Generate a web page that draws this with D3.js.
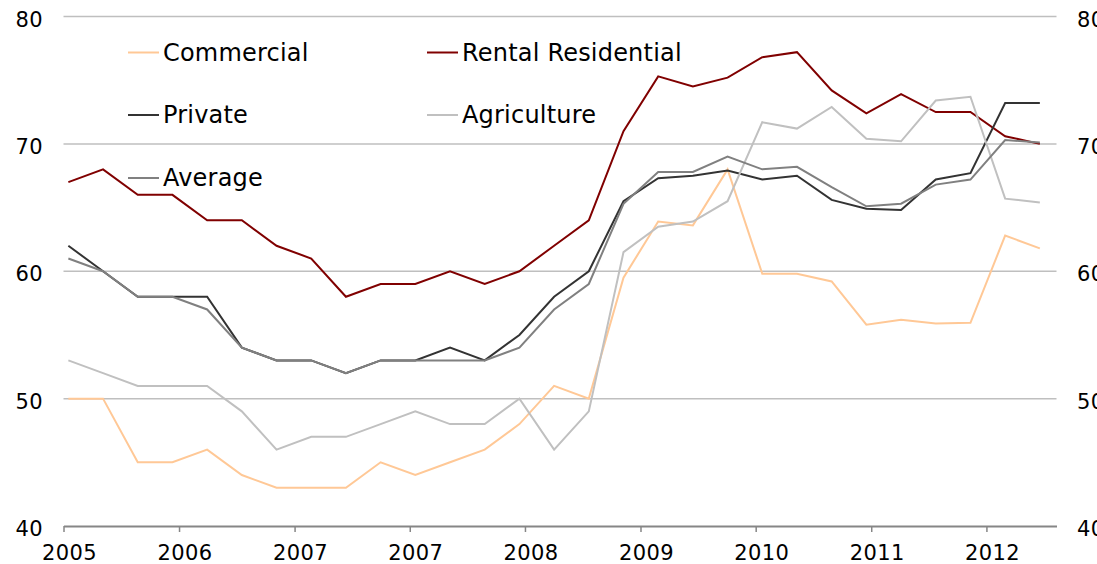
<!DOCTYPE html>
<html>
<head>
<meta charset="utf-8">
<script src="https://cdn.jsdelivr.net/npm/d3@7/dist/d3.min.js"></script>
<style>
  html, body { margin: 0; padding: 0; background: #fff; overflow: hidden; }
  svg { display: block; font-family: "DejaVu Sans", Verdana, sans-serif; }
</style>
</head>
<body>
<div id="chart"></div>
<script>
const width = 1097, height = 564;

// quarterly values, 2005 Q1 .. 2012 Q1
const commercial = [50, 50, 45, 45, 46, 44, 43, 43, 43, 45, 44, 45, 46, 48, 51, 50,
  59.5, 63.9, 63.6, 68.0, 59.8, 59.8, 59.2, 55.8, 56.2, 55.9, 55.95, 62.8, 61.8];
const rental = [67, 68, 66, 66, 64, 64, 62, 61, 58, 59, 59, 60, 59, 60, 62, 64,
  71, 75.3, 74.5, 75.2, 76.8, 77.2, 74.2, 72.4, 73.9, 72.5, 72.5, 70.6, 70.0];
const privateS = [62, 60, 58, 58, 58, 54, 53, 53, 52, 53, 53, 54, 53, 55, 58, 60,
  65.5, 67.3, 67.5, 67.9, 67.2, 67.5, 65.6, 64.9, 64.8, 67.2, 67.7, 73.2, 73.2];
const agriculture = [53, 52, 51, 51, 51, 49, 46, 47, 47, 48, 49, 48, 48, 50, 46, 49,
  61.5, 63.5, 63.9, 65.5, 71.7, 71.2, 72.9, 70.4, 70.2, 73.4, 73.7, 65.7, 65.4];
const average = [61, 60, 58, 58, 57, 54, 53, 53, 52, 53, 53, 53, 53, 54, 57, 59,
  65.3, 67.8, 67.8, 69.0, 68.0, 68.2, 66.6, 65.1, 65.3, 66.8, 67.2, 70.3, 70.1];

const xTickLabels = ["2005", "2006", "2007", "2007", "2008", "2009", "2010", "2011", "2012"];
const xTickAt = [-0.14, 3.19, 6.52, 9.84, 13.16, 16.49, 19.81, 23.14, 26.46];
const yTicks = [40, 50, 60, 70, 80];

const series = [
  { name: "Commercial", values: commercial, color: "#ffc896" },
  { name: "Rental Residential", values: rental, color: "#800000" },
  { name: "Private", values: privateS, color: "#333333" },
  { name: "Agriculture", values: agriculture, color: "#c0c0c0" },
  { name: "Average", values: average, color: "#808080" }
];

const plotL = 63.5, plotR = 1056.5, plotT = 16.5, plotB = 526;

const x = d3.scaleLinear().domain([-0.14, 28.48]).range([plotL, plotR]);
const y = d3.scaleLinear().domain([40, 80]).range([plotB, plotT]);

const svg = d3.select("#chart").append("svg")
  .attr("width", width).attr("height", height);

// gridlines
svg.append("g")
  .selectAll("line")
  .data(yTicks.filter(d => d > 40))
  .enter().append("line")
  .attr("x1", plotL).attr("x2", plotR)
  .attr("y1", d => y(d)).attr("y2", d => y(d))
  .style("stroke", "#bfbfbf")
  .style("stroke-width", 1.5);

// bottom axis
const xAxis = d3.axisBottom(x)
  .tickValues(xTickAt)
  .tickFormat((d, i) => xTickLabels[i])
  .tickSize(6)
  .tickSizeOuter(0);

const gx = svg.append("g")
  .attr("transform", `translate(0,${plotB})`)
  .call(xAxis);
gx.select(".domain").style("stroke", "#868686").style("stroke-width", 2);
gx.selectAll(".tick line").style("stroke", "#868686").style("stroke-width", 1.5);
// labels sit a little right of their ticks in the original
gx.selectAll(".tick text").attr("y", 19).attr("x", 5.5);

// left and right value labels
const yAxisL = d3.axisLeft(y).tickValues(yTicks).tickSize(0).tickPadding(0);
const gyl = svg.append("g").attr("transform", `translate(43,0)`).call(yAxisL);
gyl.select(".domain").remove();

const yAxisR = d3.axisRight(y).tickValues(yTicks).tickSize(0).tickPadding(0);
const gyr = svg.append("g").attr("transform", `translate(1077,0)`).call(yAxisR);
gyr.select(".domain").remove();

gyl.selectAll(".tick text").attr("dy", "0.46em");
gyr.selectAll(".tick text").attr("dy", "0.46em");

svg.selectAll(".tick text")
  .style("font-size", "21px")
  .style("letter-spacing", "0.4px")
  .style("fill", "#000")
  .style("font-family", "DejaVu Sans, Verdana, sans-serif");

// lines
const line = d3.line()
  .x((d, i) => x(i))
  .y(d => y(d));

svg.append("g")
  .selectAll("path")
  .data(series)
  .enter().append("path")
  .attr("d", d => line(d.values))
  .style("fill", "none")
  .style("stroke", d => d.color)
  .style("stroke-width", 2)
  .style("stroke-linejoin", "miter");

// legend
const legendPos = [
  { lx: 128, ly: 52.5 },
  { lx: 427, ly: 52.5 },
  { lx: 128, ly: 115 },
  { lx: 427, ly: 115 },
  { lx: 128, ly: 178 }
];

const legend = svg.append("g")
  .selectAll("g")
  .data(series)
  .enter().append("g")
  .attr("transform", (d, i) => `translate(${legendPos[i].lx},${legendPos[i].ly})`);

legend.append("line")
  .attr("x1", 0).attr("x2", 31)
  .attr("y1", 0).attr("y2", 0)
  .style("stroke", d => d.color)
  .style("stroke-width", 2);

legend.append("text")
  .attr("x", 35)
  .attr("y", 0)
  .attr("dy", "0.35em")
  .style("font-size", "24px")
  .style("letter-spacing", "0.2px")
  .style("fill", "#000")
  .text(d => d.name);
</script>
</body>
</html>
